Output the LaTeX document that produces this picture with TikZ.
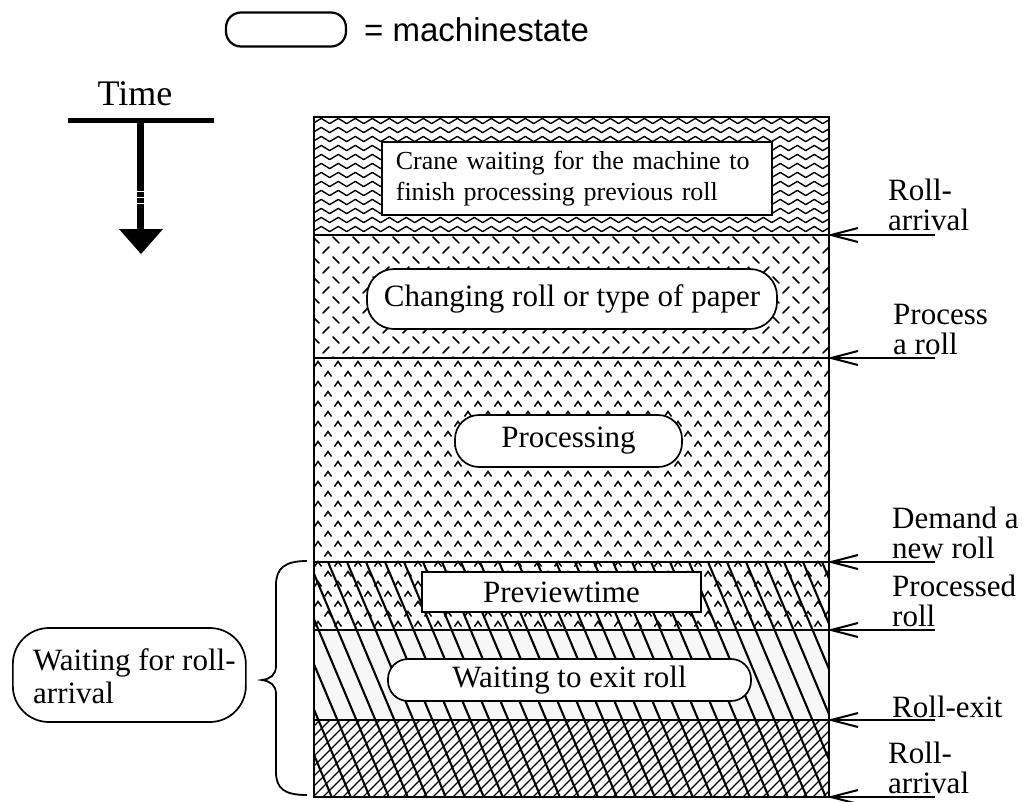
\documentclass[tikz,border=0pt]{standalone}
\usepackage{fontspec}
\setmainfont{Liberation Serif}
\newfontfamily\legendfont{Liberation Sans}
\usetikzlibrary{decorations.pathmorphing,arrows.meta}
\tikzset{
  boxline/.style={line width=2.2pt},
  statebox/.style={draw, line width=1.7pt, fill=white, font=\fontsize{31}{31}\selectfont, inner sep=0pt},
  plainbox/.style={draw, line width=1.7pt, fill=white, inner sep=0pt},
  evlabel/.style={font=\fontsize{31}{30}\selectfont, align=left, anchor=base west, inner sep=0pt},
  evarrow/.style={line width=2.2pt},
  barbline/.style={line width=2pt, line join=miter, miter limit=20},
  waveline/.style={line width=1.4pt, line join=round, decorate, decoration={zigzag, segment length=17pt, amplitude=2.6pt}},
  dashtick/.style={line width=1.6pt, line cap=round},
  caretmark/.style={line width=1.5pt},
  hatchline/.style={line width=2.1pt},
  crossline/.style={line width=1.1pt},
}
\begin{document}
\begin{tikzpicture}[x=1pt,y=-1pt]
\useasboundingbox (0,0) rectangle (1023,801);

% legend
\node[draw, line width=2.2pt, rounded corners=15pt, minimum width=120pt, minimum height=34pt, inner sep=0pt] (legendbox) at (286,29.5) {};
\node[font=\legendfont\fontsize{33}{33}\selectfont, anchor=base west, inner sep=0pt] (legendtext) at (364,41) {= machinestate};

% time arrow
\node[font=\fontsize{36}{36}\selectfont, anchor=base, inner sep=0pt] (timelbl) at (135,105) {Time};
\draw[line width=5pt] (68,120) -- (214,120);
\draw[line width=7pt] (140,120) -- (140,230);
\foreach \yy in {191,197,203} \draw[white, line width=1pt] (136,\yy) -- (144,\yy);
\fill (119,229) -- (163,229) -- (141,254) -- cycle;

% band 1: waves
\begin{scope}
  \clip (314,117) rectangle (829,235);
  \foreach \yy in {121,130,...,233} \draw[waveline] (300,\yy) -- (845,\yy);
\end{scope}

% band 2: ticks
\begin{scope}
  \clip (314,235) rectangle (829,358);
  \foreach \r in {0,...,12} {
    \pgfmathtruncatemacro\yy{240+10*\r}
    \pgfmathtruncatemacro\off{mod(\r,2)*10}
    \foreach \c in {0,...,26} {
      \pgfmathtruncatemacro\xx{316+\off+20*\c}
      \ifodd\r\relax
        \draw[dashtick] (\xx-3,\yy+3) -- (\xx+3,\yy-3);
      \else
        \draw[dashtick] (\xx-3,\yy-3) -- (\xx+3,\yy+3);
      \fi
    }
  }
\end{scope}

% band 3+4: carets
\begin{scope}
  \clip (314,358) rectangle (829,630);
  \foreach \r in {0,...,26} {
    \pgfmathtruncatemacro\yy{364+10*\r}
    \pgfmathtruncatemacro\off{mod(\r,2)*10}
    \foreach \c in {0,...,26} {
      \pgfmathtruncatemacro\xx{318+\off+20*\c}
      \draw[caretmark] (\xx-3.5,\yy+2.5) -- (\xx,\yy-2.5) -- (\xx+3.5,\yy+2.5);
    }
  }
\end{scope}

% band 5: light tint
\fill[gray!6] (314,630) rectangle (829,720);

% band 6: thin cross lines
\begin{scope}
  \clip (314,720) rectangle (829,797);
  \foreach \i in {0,...,62} {
    \pgfmathtruncatemacro\xx{220+10*\i}
    \draw[crossline] (\xx,800) -- (\xx+90,710);
  }
\end{scope}

% bands 4-6: diagonal lines
\begin{scope}
  \clip (314,562) rectangle (829,797);
  \foreach \i in {0,...,36} {
    \pgfmathtruncatemacro\xx{190+19*\i}
    \draw[hatchline] (\xx,550) -- (\xx+105,800);
  }
\end{scope}

% dividers and frame
\foreach \yy in {235,358,562,630,720} \draw[boxline] (314,\yy) -- (829,\yy);
\draw[boxline] (314,117) rectangle (829,797);

% boxes inside
\node[plainbox, text width=362pt, inner xsep=14pt, align=left, font=\fontsize{26}{31}\selectfont, minimum height=73pt, anchor=north west] (crane) at (381,141) {Crane waiting for the machine to\\finish processing previous roll};
\node[statebox, rounded corners=27pt, minimum width=410pt, minimum height=60pt] (changing) at (572,299) {Changing roll or type of paper};
\node[statebox, rounded corners=24pt, minimum width=227pt, minimum height=52pt] (processing) at (568.5,441) {Processing};
\node[plainbox, minimum width=279pt, minimum height=40pt, font=\fontsize{31}{31}\selectfont] (preview) at (561.5,592) {Previewtime};
\node[statebox, rounded corners=20pt, minimum width=363pt, minimum height=42pt] (waitexit) at (569.5,680) {Waiting to exit roll};

% left state and brace
\node[statebox, rounded corners=36pt, minimum width=233pt, minimum height=94pt, anchor=west] (waitarrival) at (12,675) {};
\node[font=\fontsize{31}{33}\selectfont, align=left, anchor=base west, inner sep=0pt] (waitarrivaltxt) at (33,703) {Waiting for roll-\\arrival};
\draw[line width=1.8pt] (307,561) .. controls (285,561) and (276,568) .. (276,585) -- (276,666) .. controls (276,675) and (270,679) .. (262,680) .. controls (270,681) and (276,685) .. (276,694) -- (276,772) .. controls (276,789) and (285,795) .. (307,795);

% event labels and arrows (base = last line)
\node[evlabel] (ev1) at (888,230) {Roll-\\arrival};
\node[evlabel] (ev2) at (893,354) {Process\\a roll};
\node[evlabel] (ev3) at (892,558) {Demand a\\new roll};
\node[evlabel] (ev4) at (892,626) {Processed\\roll};
\node[evlabel] (ev5) at (892,717) {Roll-exit};
\node[evlabel] (ev6) at (888,793) {Roll-\\arrival};

\foreach \n/\yy in {1/235,2/358,3/562,4/630,5/720,6/797} {
  \coordinate (s\n) at (935,\yy);
  \coordinate (t\n) at (831,\yy);
  \draw[evarrow] (s\n) -- (t\n);
  \draw[barbline] ([shift={(27,-7)}]t\n) -- (t\n) -- ([shift={(27,7)}]t\n);
}
\end{tikzpicture}
\end{document}
